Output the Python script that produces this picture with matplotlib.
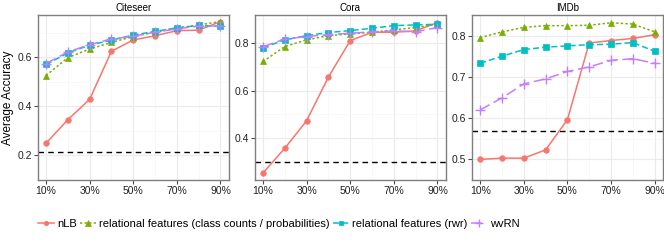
import matplotlib.pyplot as plt
from matplotlib.lines import Line2D
import numpy as np

plt.rcParams['font.family'] = ['Liberation Sans', 'DejaVu Sans']

pct = [10, 20, 30, 40, 50, 60, 70, 80, 90]
datasets = ['Citeseer', 'Cora', 'IMDb']

nlb = {
    'Citeseer': [0.250, 0.346, 0.429, 0.625, 0.671, 0.688, 0.709, 0.711, 0.746],
    'Cora': [0.254, 0.358, 0.474, 0.658, 0.811, 0.846, 0.846, 0.852, 0.887],
    'IMDb': [0.500, 0.503, 0.503, 0.523, 0.596, 0.782, 0.788, 0.793, 0.802],
}
rel_counts = {
    'Citeseer': [0.526, 0.599, 0.634, 0.661, 0.685, 0.703, 0.720, 0.732, 0.746],
    'Cora': [0.723, 0.786, 0.814, 0.832, 0.839, 0.846, 0.856, 0.866, 0.880],
    'IMDb': [0.795, 0.809, 0.820, 0.824, 0.824, 0.825, 0.831, 0.828, 0.809],
}
rel_rwr = {
    'Citeseer': [0.571, 0.618, 0.650, 0.670, 0.691, 0.706, 0.720, 0.730, 0.726],
    'Cora': [0.781, 0.814, 0.832, 0.845, 0.853, 0.863, 0.874, 0.877, 0.880],
    'IMDb': [0.733, 0.750, 0.766, 0.772, 0.775, 0.778, 0.779, 0.783, 0.762],
}
wvrn = {
    'Citeseer': [0.575, 0.622, 0.652, 0.675, 0.686, 0.703, 0.716, 0.728, 0.728],
    'Cora': [0.785, 0.818, 0.828, 0.836, 0.842, 0.848, 0.852, 0.848, 0.866],
    'IMDb': [0.620, 0.649, 0.683, 0.695, 0.713, 0.724, 0.740, 0.744, 0.733],
}
baseline = {'Citeseer': 0.213, 'Cora': 0.299, 'IMDb': 0.570}

ylims = {'Citeseer': (0.19, 0.773), 'Cora': (0.224, 0.919), 'IMDb': (0.486, 0.846)}
yticks = {'Citeseer': [0.2, 0.4, 0.6], 'Cora': [0.4, 0.6, 0.8], 'IMDb': [0.5, 0.6, 0.7, 0.8]}

series = [
    ('nLB', nlb, '#F8766D', '-', 'o', 4.0),
    ('relational features (class counts / probabilities)', rel_counts, '#7CAE00', (0, (1.5, 1.5)), '^', 5.0),
    ('relational features (rwr)', rel_rwr, '#00BFC4', (0, (4, 2)), 's', 4.2),
    ('wvRN', wvrn, '#C77CFF', (0, (7, 3)), '+', 7),
]

fig = plt.figure(figsize=(6.64, 2.49), dpi=100)
lefts = [0.0572, 0.384, 0.711]
width = 0.287
bottom, height = 0.277, 0.663

for i, name in enumerate(datasets):
    ax = fig.add_axes([lefts[i], bottom, width, height])
    ax.set_facecolor('white')
    ax.set_xlim(6.3, 93.7)
    ax.set_ylim(*ylims[name])
    ax.set_xticks([10, 30, 50, 70, 90])
    ax.set_xticklabels(['%d%%' % v for v in [10, 30, 50, 70, 90]])
    ax.set_xticks([20, 40, 60, 80], minor=True)
    yt = yticks[name]
    ax.set_yticks(yt)
    ax.set_yticklabels(['%.1f' % v for v in yt])
    ymin = [(a + b) / 2 for a, b in zip(yt[:-1], yt[1:])]
    step = yt[1] - yt[0]
    ymin = [yt[0] - step / 2] + ymin + [yt[-1] + step / 2]
    ax.set_yticks(ymin, minor=True)
    ax.grid(which='major', color='#EBEBEB', linewidth=0.8)
    ax.grid(which='minor', color='#F5F5F5', linewidth=0.5)
    ax.set_axisbelow(True)
    ax.tick_params(which='minor', length=0)
    ax.tick_params(which='major', length=3, color='#4D4D4D', labelsize=7.5, pad=1.5,
                   labelcolor='#222222')
    for sp in ax.spines.values():
        sp.set_color('#7F7F7F')
        sp.set_linewidth(1.0)
    ax.axhline(baseline[name], color='black', linestyle=(0, (4, 3)), linewidth=1.0)
    for label, d, c, ls, mk, ms in series:
        ax.plot(pct, d[name], color=c, linestyle=ls, linewidth=1.1,
                marker=mk, markersize=ms, markeredgewidth=1.0 if mk == '+' else 0.5,
                markeredgecolor=c)
    ax.set_title(name, fontsize=7, pad=3)
    if i == 0:
        ax.set_ylabel('Average Accuracy', fontsize=8.5, labelpad=2)

handles = []
for label, d, c, ls, mk, ms in series:
    handles.append(Line2D([0], [0], color=c, linestyle=ls, linewidth=1.1, marker=mk,
                          markersize=ms * 0.8, markeredgecolor=c,
                          markeredgewidth=1.0 if mk == '+' else 0.5, label=label))
fig.legend(handles=handles, loc='center', bbox_to_anchor=(0.42, 0.1), ncol=4,
           frameon=False, fontsize=8, handlelength=1.4, handletextpad=0.3,
           columnspacing=0.3)

plt.savefig('out.png', dpi=100)
